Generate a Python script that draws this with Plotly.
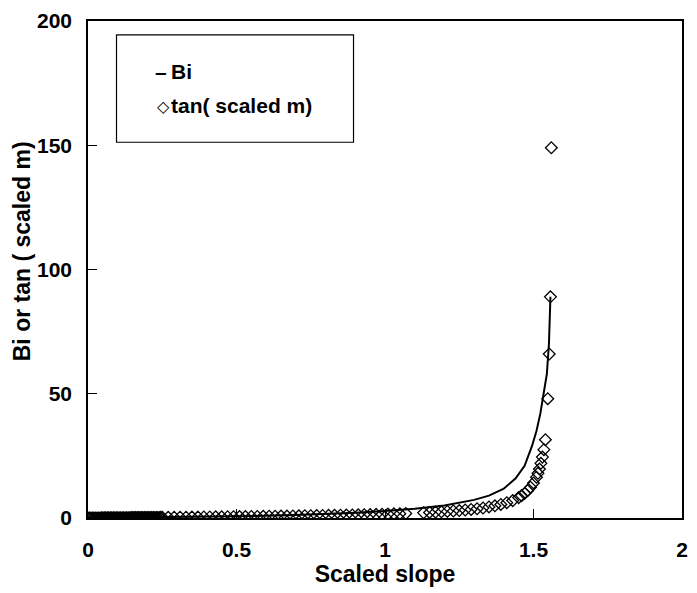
import plotly.graph_objects as go

# ---- data ----
bi_x = [0.0, 0.1, 0.2, 0.3, 0.4, 0.5, 0.6, 0.7, 0.8, 0.9, 1.0, 1.1, 1.2, 1.3,
        1.35, 1.4, 1.44, 1.47, 1.495, 1.51, 1.523, 1.535, 1.545, 1.552, 1.557]
bi_y = [0.0, 0.1, 0.2, 0.35, 0.5, 0.7, 0.9, 1.2, 1.6, 2.1, 2.8, 3.7, 5.0, 7.3,
        9.0, 11.8, 16.0, 21.0, 29.0, 35.0, 42.0, 50.0, 58.0, 70.0, 89.0]

tan_x = [0.0, 0.005, 0.01, 0.015, 0.02, 0.025, 0.03, 0.035, 0.04, 0.045, 0.05,
         0.055, 0.06, 0.065, 0.07, 0.075, 0.08, 0.085, 0.09, 0.095, 0.1,
         0.105, 0.11, 0.115, 0.12, 0.125, 0.13, 0.135, 0.14, 0.145, 0.15,
         0.155, 0.16, 0.165, 0.17, 0.175, 0.18, 0.185, 0.19, 0.195, 0.2,
         0.205, 0.21, 0.215, 0.22, 0.225, 0.23, 0.235, 0.24, 0.245, 0.25,
         0.27, 0.29, 0.31, 0.33, 0.35, 0.37, 0.39, 0.41, 0.43, 0.45, 0.47,
         0.49, 0.51, 0.53, 0.55, 0.57, 0.59, 0.61, 0.63, 0.65, 0.67, 0.69,
         0.71, 0.73, 0.75, 0.77, 0.79, 0.81, 0.83, 0.85, 0.87, 0.89, 0.91,
         0.93, 0.95, 0.97, 0.99, 1.01, 1.03, 1.05, 1.07,
         1.13, 1.15, 1.17, 1.19, 1.21, 1.23, 1.25, 1.27, 1.29, 1.31, 1.33,
         1.35, 1.37, 1.39, 1.41, 1.43, 1.45, 1.46, 1.47, 1.48, 1.49, 1.5,
         1.51, 1.515, 1.52, 1.525, 1.53, 1.535, 1.54, 1.548, 1.553, 1.557,
         1.560]
tan_y = [0.0, 0.01, 0.01, 0.02, 0.02, 0.03, 0.03, 0.04, 0.04, 0.05, 0.05,
         0.06, 0.06, 0.07, 0.07, 0.08, 0.08, 0.09, 0.09, 0.1, 0.1,
         0.11, 0.11, 0.12, 0.12, 0.13, 0.13, 0.14, 0.14, 0.15, 0.15,
         0.16, 0.16, 0.17, 0.17, 0.18, 0.18, 0.19, 0.19, 0.2, 0.2,
         0.21, 0.21, 0.22, 0.22, 0.23, 0.23, 0.24, 0.24, 0.25, 0.26,
         0.28, 0.3, 0.32, 0.34, 0.37, 0.39, 0.41, 0.44, 0.46, 0.48, 0.51,
         0.53, 0.56, 0.59, 0.61, 0.64, 0.67, 0.7, 0.73, 0.76, 0.79, 0.83,
         0.86, 0.9, 0.93, 0.97, 1.01, 1.05, 1.1, 1.14, 1.19, 1.24, 1.29,
         1.34, 1.4, 1.46, 1.52, 1.59, 1.66, 1.74, 1.82,
         2.11, 2.23, 2.36, 2.5, 2.65, 2.82, 3.01, 3.22, 3.45, 3.72, 4.03,
         4.46, 4.91, 5.45, 6.15, 7.0, 8.2, 9.0, 9.9, 11.0, 12.4, 14.1,
         16.4, 18.0, 19.7, 22.0, 24.5, 27.5, 31.5, 48.0, 66.0, 89.0,
         149.0]

x_ticks = [0, 0.5, 1, 1.5, 2]
x_tick_labels = ["0", "0.5", "1", "1.5", "2"]
y_ticks = [0, 50, 100, 150, 200]
y_tick_labels = ["0", "50", "100", "150", "200"]

FONT = "Liberation Sans, Arial, Helvetica, sans-serif"

fig = go.Figure()
fig.add_trace(go.Scatter(
    x=tan_x, y=tan_y, mode="markers", name="tan( scaled m)",
    marker=dict(symbol="diamond-open", size=9, color="black",
                line=dict(width=1.3, color="black")),
    showlegend=False))
fig.add_trace(go.Scatter(
    x=bi_x, y=bi_y, mode="lines", name="Bi",
    line=dict(color="black", width=2), showlegend=False))

# legend box and entries
fig.add_shape(type="rect", xref="paper", yref="paper",
              x0=0.048, x1=0.447, y0=0.756, y1=0.972,
              line=dict(color="black", width=1.2), fillcolor="white", layer="below")
legend_font = dict(family=FONT, size=21, color="black")
fig.add_annotation(xref="paper", yref="paper", x=0.11, y=0.8988,
                   text="<b>–</b>", showarrow=False, xanchor="left",
                   yanchor="middle", font=legend_font)
fig.add_annotation(xref="paper", yref="paper", x=0.137, y=0.8988,
                   text="<b>Bi</b>", showarrow=False, xanchor="left",
                   yanchor="middle", font=legend_font)
fig.add_annotation(xref="paper", yref="paper", x=0.112, y=0.827,
                   text="◇", showarrow=False, xanchor="left",
                   yanchor="middle", font=dict(family="DejaVu Sans", size=16, color="black"))
fig.add_annotation(xref="paper", yref="paper", x=0.136, y=0.8294,
                   text="<b>tan( scaled m)</b>", showarrow=False, xanchor="left",
                   yanchor="middle", font=legend_font)

# y-axis title (placed as in the reference, slightly above the plot centre)
fig.add_annotation(xref="paper", yref="paper", x=-0.112, y=0.5377,
                   text="<b>Bi or tan ( scaled m)</b>", textangle=-90,
                   showarrow=False, xanchor="center", yanchor="middle",
                   font=dict(family=FONT, size=23, color="black"))

fig.update_layout(
    width=697, height=593,
    margin=dict(l=88, r=9, t=14, b=75),
    paper_bgcolor="white", plot_bgcolor="white",
    font=dict(family=FONT, size=21, color="black"),
    xaxis=dict(range=[0, 2], tickvals=x_ticks,
               ticktext=[f"<b>{t}</b>" for t in x_tick_labels],
               ticks="inside", ticklen=9, tickcolor="black", tickwidth=1.2,
               showline=True, linecolor="black", linewidth=1.6, mirror=True,
               showgrid=False, zeroline=False, ticklabelstandoff=12,
               tickfont=dict(family=FONT, size=21),
               title=dict(text="<b>Scaled slope</b>", standoff=3,
                          font=dict(family=FONT, size=23))),
    yaxis=dict(range=[0, 200], tickvals=y_ticks,
               ticktext=[f"<b>{t}</b>" for t in y_tick_labels],
               ticks="inside", ticklen=9, tickcolor="black", tickwidth=1.2,
               showline=True, linecolor="black", linewidth=1.6, mirror=True,
               showgrid=False, zeroline=False, ticklabelstandoff=10,
               tickfont=dict(family=FONT, size=21)),
)

fig.write_html("out.html")
